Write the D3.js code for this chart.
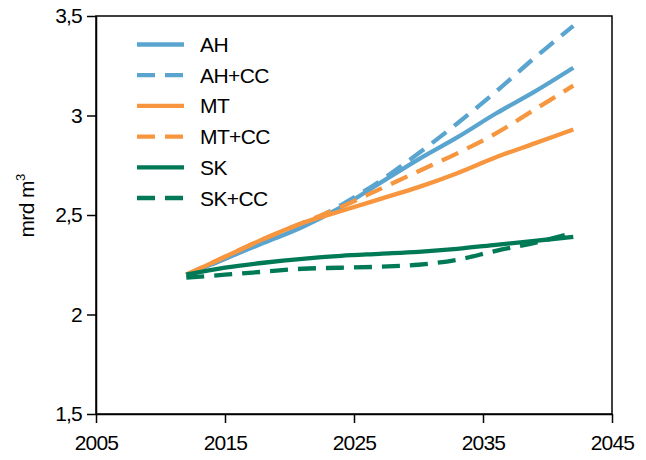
<!DOCTYPE html>
<html>
<head>
<meta charset="utf-8">
<script src="https://cdn.jsdelivr.net/npm/d3@7"></script>
<style>
  body { margin: 0; background: #fff; }
  text { font-family: "Liberation Sans", Arial, Helvetica, sans-serif; }
</style>
</head>
<body>
<div id="chart"></div>
<script>
let width = 646,
    height = 460,
    margin = ({ top: 16, right: 34, bottom: 46, left: 96 });

// data
let years = [2012, 2015, 2018, 2021, 2024, 2027, 2030, 2033, 2036, 2039, 2042];
let ah    = [2.20, 2.28, 2.36, 2.44, 2.54, 2.66, 2.78, 2.89, 3.01, 3.12, 3.24];
let ahCC  = [2.20, 2.28, 2.37, 2.45, 2.55, 2.67, 2.81, 2.96, 3.12, 3.29, 3.45];
let mt    = [2.20, 2.29, 2.38, 2.46, 2.52, 2.58, 2.64, 2.71, 2.79, 2.86, 2.93];
let mtCC  = [2.20, 2.29, 2.38, 2.46, 2.54, 2.63, 2.72, 2.81, 2.91, 3.03, 3.15];
let sk    = [2.20, 2.235, 2.26, 2.28, 2.295, 2.305, 2.315, 2.33, 2.35, 2.37, 2.39];
let skCC  = [2.185, 2.20, 2.215, 2.23, 2.235, 2.24, 2.25, 2.275, 2.32, 2.36, 2.41];

let seriesNames = ["AH", "AH+CC", "MT", "MT+CC", "SK", "SK+CC"];
let seriesValues = [ah, ahCC, mt, mtCC, sk, skCC];
let colors = ["#5aa4d0", "#5aa4d0", "#f7963f", "#f7963f", "#007a56", "#007a56"];
let dashed = [false, true, false, true, false, true];

let xTicks = [2005, 2015, 2025, 2035, 2045];
let yTicks = [1.5, 2, 2.5, 3, 3.5];

const svg = d3.select("#chart")
  .append("svg")
  .attr("width", width)
  .attr("height", height);

let x = d3.scaleLinear()
  .domain([2005, 2045])
  .range([margin.left, width - margin.right]);

let y = d3.scaleLinear()
  .domain([1.5, 3.5])
  .range([height - margin.bottom, margin.top]);

// frame
svg.append("rect")
  .attr("x", margin.left)
  .attr("y", margin.top)
  .attr("width", width - margin.left - margin.right)
  .attr("height", height - margin.top - margin.bottom)
  .attr("fill", "none")
  .attr("stroke", "#000")
  .attr("stroke-width", 1.5);

let xAxis = svg.append("g")
  .attr("transform", `translate(0,${height - margin.bottom})`)
  .call(d3.axisBottom(x).tickValues(xTicks).tickFormat(d3.format("d"))
    .tickSize(9).tickSizeOuter(0).tickPadding(12));

let yAxis = svg.append("g")
  .attr("transform", `translate(${margin.left},0)`)
  .call(d3.axisLeft(y).tickValues(yTicks).tickFormat(d => String(d).replace(".", ","))
    .tickSize(9).tickSizeOuter(0).tickPadding(5));

for (let ax of [xAxis, yAxis]) {
  ax.select(".domain").attr("stroke-width", 1.5);
  ax.selectAll(".tick line").attr("stroke-width", 1.5);
  ax.selectAll(".tick text")
    .attr("font-size", 21)
    .attr("letter-spacing", "-0.8px")
    .attr("fill", "#000");
}

let line = d3.line()
  .x((d, i) => x(years[i]))
  .y(d => y(d))
  .curve(d3.curveCatmullRom.alpha(0.5));

seriesValues.forEach((vals, i) => {
  svg.append("path")
    .datum(vals)
    .attr("fill", "none")
    .attr("stroke", colors[i])
    .attr("stroke-width", 4.3)
    .attr("stroke-dasharray", dashed[i] ? "18,10" : null)
    .attr("d", line);
});

// legend
let legend = svg.append("g");
seriesNames.forEach((name, i) => {
  let ly = 44.5 + i * 30.7;
  legend.append("line")
    .attr("x1", 137).attr("x2", 184)
    .attr("y1", ly).attr("y2", ly)
    .attr("stroke", colors[i])
    .attr("stroke-width", 4.3)
    .attr("stroke-dasharray", dashed[i] ? "18,10" : null);
  legend.append("text")
    .attr("x", 200)
    .attr("y", ly)
    .attr("dy", "0.36em")
    .attr("font-size", 21)
    .attr("letter-spacing", "-0.6px")
    .text(name);
});

// y label
let yl = svg.append("text")
  .attr("transform", "translate(34,206) rotate(-90)")
  .attr("text-anchor", "middle")
  .attr("font-size", 21)
  .attr("letter-spacing", "-0.6px");
yl.append("tspan").text("mrd m");
yl.append("tspan").attr("font-size", 13).attr("dy", -9).text("3");
</script>
</body>
</html>
